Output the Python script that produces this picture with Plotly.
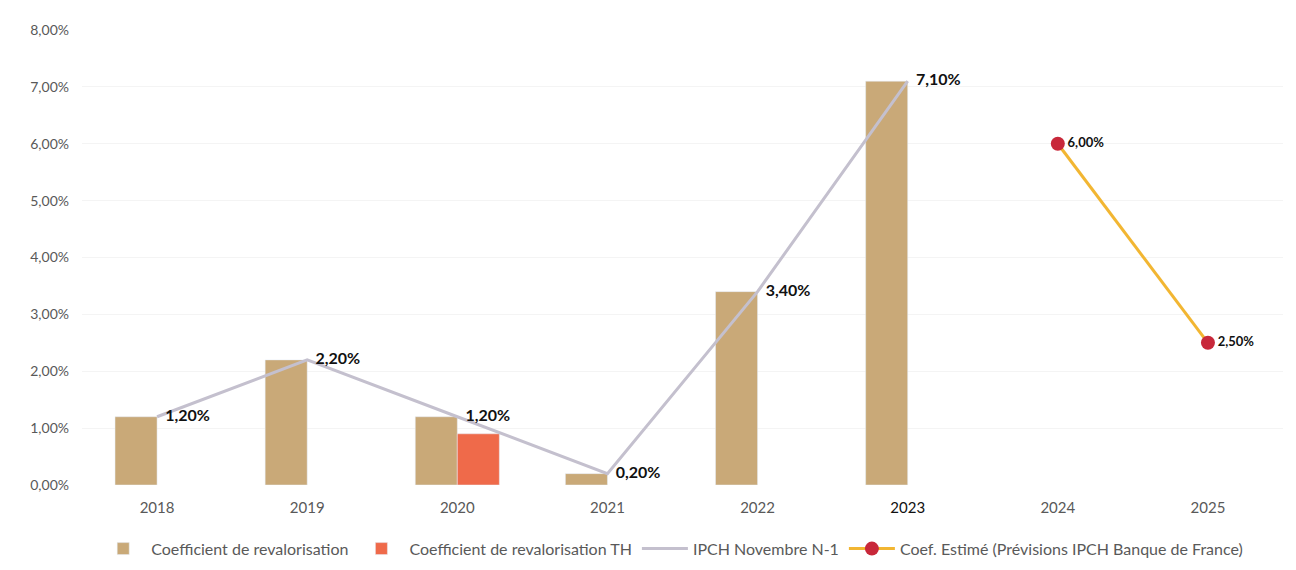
import plotly.graph_objects as go

# ---------------------------------------------------------------------------
# Data (values in %)
# ---------------------------------------------------------------------------
years = ["2018", "2019", "2020", "2021", "2022", "2023", "2024", "2025"]
coef_years = ["2018", "2019", "2020", "2021", "2022", "2023"]
coef_values = [1.2, 2.2, 1.2, 0.2, 3.4, 7.1]
th_years = ["2020"]
th_values = [0.9]
ipch_years = ["2018", "2019", "2020", "2021", "2022", "2023"]
ipch_values = [1.2, 2.2, 1.2, 0.2, 3.4, 7.1]
estim_years = ["2024", "2025"]
estim_values = [6.0, 2.5]
y_ticks = [0, 1, 2, 3, 4, 5, 6, 7, 8]

FONT = "Lato, 'Open Sans', sans-serif"


def pct(v):
    return f"{v:.2f}%".replace(".", ",")


fig = go.Figure()

fig.add_trace(
    go.Bar(
        x=coef_years,
        y=coef_values,
        name="Coefficient de revalorisation",
        marker_color="#C9A978",
        offsetgroup="a",
    )
)
fig.add_trace(
    go.Bar(
        x=th_years,
        y=th_values,
        name="Coefficient de revalorisation TH",
        marker_color="#EF6A4A",
        offsetgroup="b",
    )
)
fig.add_trace(
    go.Scatter(
        x=ipch_years,
        y=ipch_values,
        name="IPCH Novembre N-1",
        mode="lines+text",
        line=dict(color="#C4C0CE", width=3),
        text=[f"&nbsp;&nbsp;<b>{pct(v)}</b>" for v in ipch_values],
        textposition="middle right",
        textfont=dict(size=16, color="#111111", family=FONT),
    )
)
fig.add_trace(
    go.Scatter(
        x=estim_years,
        y=estim_values,
        name="Coef. Estimé (Prévisions IPCH Banque de France)",
        mode="lines+markers+text",
        line=dict(color="#F2B632", width=3),
        marker=dict(color="#C8283A", size=14),
        text=[f"<b>{pct(v)}</b>" for v in estim_values],
        textposition="middle right",
        textfont=dict(size=13, color="#111111", family=FONT),
    )
)

tick_text = [y if y != "2023" else "<span style='color:#111111'>2023</span>" for y in years]

# page body adds ~8px offset, margins compensate for it
fig.update_layout(
    width=1296,
    height=570,
    margin=dict(l=74, r=21, t=22, b=89),
    paper_bgcolor="white",
    plot_bgcolor="white",
    font=dict(family=FONT, size=14, color="#595959"),
    barmode="group",
    bargap=0.44,
    bargroupgap=0,
    showlegend=True,
    legend=dict(
        orientation="h",
        x=0.011,
        xanchor="left",
        y=-0.14,
        yanchor="middle",
        font=dict(size=16, color="#595959"),
        itemwidth=46,
        traceorder="normal",
    ),
    xaxis=dict(
        type="category",
        categoryorder="array",
        categoryarray=years,
        range=[-0.5, len(years) - 0.5],
        tickvals=years,
        ticktext=tick_text,
        showgrid=False,
        showline=False,
        ticks="",
        automargin=False,
        ticklabelstandoff=12,
        tickfont=dict(size=15, color="#595959"),
    ),
    yaxis=dict(
        range=[0, 8],
        tickvals=y_ticks,
        ticktext=[pct(v) for v in y_ticks],
        showgrid=True,
        gridcolor="#F4F4F4",
        zeroline=False,
        showline=False,
        automargin=False,
        ticklabelstandoff=12,
        tickfont=dict(size=14, color="#595959"),
    ),
)

fig.write_html("out.html")
